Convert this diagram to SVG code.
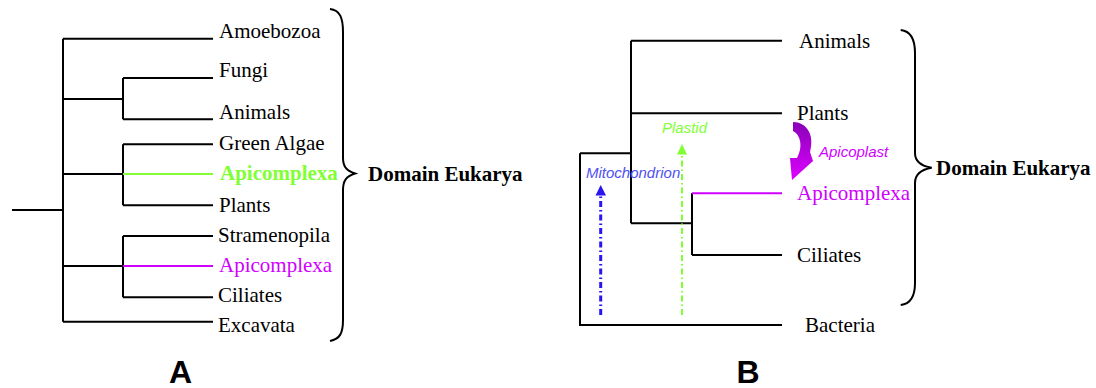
<svg xmlns="http://www.w3.org/2000/svg" width="1096" height="388" viewBox="0 0 1096 388">
<style>
.l{stroke:#000;stroke-width:2;fill:none}
.br{stroke:#000;stroke-width:2;fill:none}
.t{font-family:"Liberation Serif","Times New Roman",serif;font-size:21px;fill:#000}
.b{font-weight:bold}
.it{font-family:"Liberation Sans",Arial,sans-serif;font-style:italic;font-size:15px}
.pl{font-family:"Liberation Sans",Arial,sans-serif;font-weight:bold;font-size:32px;fill:#000;text-anchor:middle}
.g{fill:#80ff33}
.m{fill:#d000ff}
</style>
<defs>
<linearGradient id="apg" x1="0" y1="0" x2="0" y2="1">
<stop offset="0" stop-color="#8a00b8"/>
<stop offset="1" stop-color="#dd00ff"/>
</linearGradient>
</defs>
<rect width="1096" height="388" fill="#fff"/>
<g id="connectors">
<path class="l" d="M12 210H63M63 38.7V321.7M63 38.7H213M63 99H123M123 78V119.3M123 78H213M123 119.3H213M63 174H123M123 144.3V205.3M123 144.3H213M123 205.3H213M63 266H123M123 236V297.3M123 236H213M123 297.3H213M63 321.7H213"/>
<path d="M123 174H213" stroke="#80ff33" stroke-width="2"/>
<path d="M123 266H213" stroke="#d000ff" stroke-width="2"/>
<path class="br" d="M330 9C340 10 343 18 343 32V158C343 167 347 171 355 173.5C347 176 343 180 343 190V320C343 333 340 339 330 341"/>
<path class="l" d="M580 153.3V325H782M580 153.3H631M631 40.7V223.3M631 40.7H782M631 113.3H782M631 223.3H692M692 193.3V255M692 255H782"/>
<path d="M692 193.3H782" stroke="#d000ff" stroke-width="2"/>
<path class="br" d="M900.7 30C910 31 915 38 915 53V153C915 161 921 166 931.7 167.7C921 169.5 915 174 915 183V283C915 297 910 304 900.7 305"/>
<path d="M600.7 315V194" stroke="#2a14f0" stroke-width="3" stroke-dasharray="6 3 1.5 3"/>
<polygon points="600.7,185 595.5,195.5 606,195.5" fill="#2a14f0"/>
<path d="M682 315V153" stroke="#80ff33" stroke-width="2" stroke-dasharray="6 3 1.5 3"/>
<polygon points="682,144 677,154.5 687,154.5" fill="#80ff33"/>
<path d="M793 122C806 122 815 134 810 152L813 161L792 180L790 158L797 158C803 147 801 135 793 131Z" fill="url(#apg)"/>
</g>
<g id="A-Amoebozoa"><text class="t" x="219" y="38">Amoebozoa</text></g>
<g id="A-Fungi"><text class="t" x="219" y="77">Fungi</text></g>
<g id="A-Animals"><text class="t" x="219" y="119">Animals</text></g>
<g id="A-GreenAlgae"><text class="t" x="219" y="150">Green Algae</text></g>
<g id="A-Apicomplexa-green"><text class="t b g" x="220" y="180">Apicomplexa</text></g>
<g id="A-Plants"><text class="t" x="219" y="211.5">Plants</text></g>
<g id="A-Stramenopila"><text class="t" x="218" y="242">Stramenopila</text></g>
<g id="A-Apicomplexa-magenta"><text class="t m" x="219" y="271.5">Apicomplexa</text></g>
<g id="A-Ciliates"><text class="t" x="218" y="301.5">Ciliates</text></g>
<g id="A-Excavata"><text class="t" x="218" y="331.5">Excavata</text></g>
<g id="A-Domain"><text class="t b" x="368" y="181">Domain Eukarya</text></g>
<g id="A-label"><text class="pl" x="180.5" y="383">A</text></g>
<g id="B-Animals"><text class="t" x="799" y="48">Animals</text></g>
<g id="B-Plants"><text class="t" x="797" y="120">Plants</text></g>
<g id="B-Apicomplexa"><text class="t m" x="797" y="200">Apicomplexa</text></g>
<g id="B-Ciliates"><text class="t" x="797" y="262">Ciliates</text></g>
<g id="B-Bacteria"><text class="t" x="805" y="332">Bacteria</text></g>
<g id="B-Domain"><text class="t b" x="936" y="175">Domain Eukarya</text></g>
<g id="B-Mitochondrion"><text class="it" x="586" y="178" fill="#5050f0">Mitochondrion</text></g>
<g id="B-Plastid"><text class="it" x="662" y="133" fill="#80ff33">Plastid</text></g>
<g id="B-Apicoplast"><text class="it" x="819" y="157" fill="#d000ff">Apicoplast</text></g>
<g id="B-label"><text class="pl" x="748" y="383">B</text></g>
</svg>
